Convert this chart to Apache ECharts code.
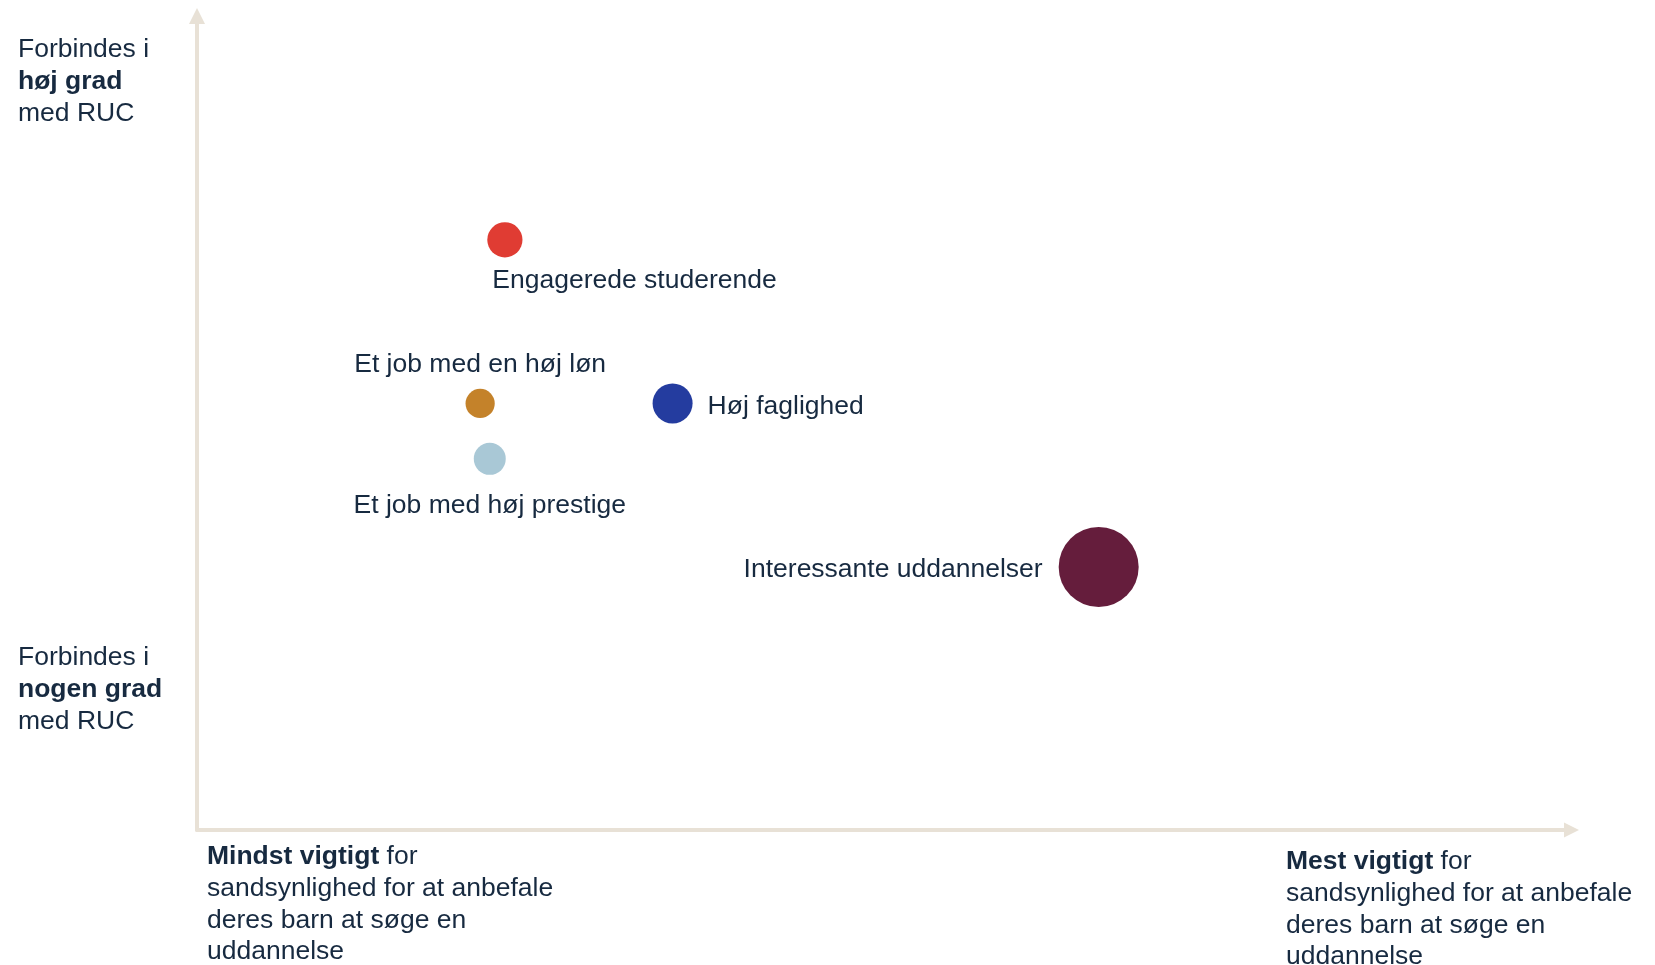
<!DOCTYPE html>
<html>
<head>
<meta charset="utf-8">
<script src="https://cdn.jsdelivr.net/npm/echarts@6/dist/echarts.min.js"></script>
<style>
  html, body { margin: 0; padding: 0; background: #ffffff; }
  #chart { width: 1655px; height: 965px; }
</style>
</head>
<body>
<div id="chart"></div>
<script>
// ---- data ----
const categories = ['Engagerede studerende', 'Et job med en høj løn', 'Et job med høj prestige', 'Høj faglighed', 'Interessante uddannelser'];
const importance = [22.4, 20.6, 21.3, 34.6, 65.6];   // x: vigtighed
const association = [72.5, 52.4, 45.6, 52.4, 32.3];  // y: forbindes med RUC
const weight = [8.8, 7.3, 8.0, 10.0, 20.0];          // bubble size value

// axis end texts: [normal, bold, normal]
const yTopText = ['Forbindes i', 'høj grad', 'med RUC'];
const yBottomText = ['Forbindes i', 'nogen grad', 'med RUC'];
const xLeftText = ['Mindst vigtigt', ' for', 'sandsynlighed for at anbefale', 'deres barn at søge en', 'uddannelse'];
const xRightText = ['Mest vigtigt', ' for', 'sandsynlighed for at anbefale', 'deres barn at søge en', 'uddannelse'];

// ---- styles ----
const palette = ['#e03c33', '#c4822a', '#a9c8d6', '#243c9f', '#651d3c'];
const textColor = '#172a40';
const FONT = '"Liberation Sans", Arial, Helvetica, sans-serif';
const FS = 26.5;
const LH = 31.7;
const axisColor = '#e8e1d6';

const labelCfg = [
  { position: [5, 58], align: 'left', verticalAlign: 'middle' },
  { position: 'top', distance: 11 },
  { position: 'bottom', distance: 17 },
  { position: 'right', distance: 15, offset: [0, 3] },
  { position: 'left', distance: 16, offset: [0, 3] }
];

const seriesData = categories.map((name, i) => ({
  name: name,
  value: [importance[i], association[i], weight[i]],
  itemStyle: { color: palette[i], opacity: 1 },
  label: Object.assign({
    show: true,
    formatter: '{b}',
    color: textColor,
    fontSize: FS,
    fontFamily: FONT
  }, labelCfg[i])
}));

const rich = {
  n: { fontSize: FS, fontFamily: FONT, color: textColor, lineHeight: LH },
  b: { fontSize: FS, fontFamily: FONT, color: textColor, lineHeight: LH, fontWeight: 'bold' }
};

function yText(arr) {
  return '{n|' + arr[0] + '}\n{b|' + arr[1] + '}\n{n|' + arr[2] + '}';
}
function xText(arr) {
  return '{b|' + arr[0] + '}{n|' + arr[1] + '}\n{n|' + arr[2] + '}\n{n|' + arr[3] + '}\n{n|' + arr[4] + '}';
}
function textEl(str, x, y) {
  return {
    type: 'text', left: x, top: y, silent: true,
    style: { text: str, rich: rich, fill: textColor, font: FS + 'px ' + FONT, lineHeight: LH }
  };
}

const chart = echarts.init(document.getElementById('chart'), null, { renderer: 'canvas' });
chart.setOption({
  animation: false,
  backgroundColor: '#ffffff',
  grid: { left: 197, right: 83.5, top: 16, bottom: 135, containLabel: false },
  xAxis: {
    type: 'value', min: 0, max: 100,
    splitLine: { show: false }, axisTick: { show: false }, axisLabel: { show: false },
    axisLine: { show: true, onZero: false, symbol: ['none', 'triangle'], symbolSize: [15, 15],
      lineStyle: { color: axisColor, width: 4 } }
  },
  yAxis: {
    type: 'value', min: 0, max: 100,
    splitLine: { show: false }, axisTick: { show: false }, axisLabel: { show: false },
    axisLine: { show: true, onZero: false, symbol: ['none', 'triangle'], symbolSize: [16, 16],
      lineStyle: { color: axisColor, width: 4 } }
  },
  series: [{
    type: 'scatter',
    symbol: 'circle',
    symbolSize: function (val) { return val[2] * 4; },
    data: seriesData,
    emphasis: { disabled: true }
  }],
  graphic: [
    textEl(yText(yTopText), 18, 34),
    textEl(yText(yBottomText), 18, 642),
    textEl(xText(xLeftText), 207, 841),
    textEl(xText(xRightText), 1286, 846)
  ]
});
</script>
</body>
</html>
